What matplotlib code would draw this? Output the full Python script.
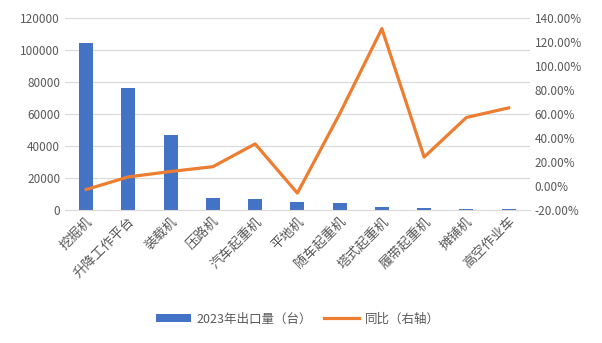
import matplotlib
matplotlib.use("Agg")
import matplotlib.pyplot as plt
from matplotlib.ticker import FuncFormatter

plt.rcParams['font.family'] = ['Noto Sans CJK SC', 'DejaVu Sans']

categories = ["挖掘机", "升降工作平台", "装载机", "压路机", "汽车起重机", "平地机",
              "随车起重机", "塔式起重机", "履带起重机", "摊铺机", "高空作业车"]
exports = [104500, 76000, 47000, 7500, 7000, 5000, 4500, 1800, 1500, 600, 500]
yoy = [-3, 7.5, 12, 16, 35, -6, 60, 131, 24, 57, 65]

bar_color = "#4472C4"
line_color = "#ED7D31"
text_color = "#595959"

fig = plt.figure(figsize=(6.02, 3.43), dpi=100)
ax = fig.add_axes([0.108, 0.388, 0.772, 0.56])
x = range(len(categories))
b = ax.bar(x, exports, width=0.33, color=bar_color, zorder=2, label="2023年出口量（台）")
ax.set_ylim(0, 120000)
ax.set_yticks(range(0, 120001, 20000))
ax.set_xlim(-0.5, len(categories) - 0.5)
ax.grid(axis='y', color="#D9D9D9", linewidth=0.8, zorder=0)
for s in ax.spines.values():
    s.set_visible(False)
ax.spines['bottom'].set_visible(True)
ax.spines['bottom'].set_color("#D9D9D9")
ax.tick_params(axis='both', length=0, colors=text_color, labelsize=8.5)
ax.set_xticks(list(x))
ax.set_xticklabels(categories, rotation=45, ha='right', rotation_mode='anchor', fontsize=9.5)

ax2 = ax.twinx()
l, = ax2.plot(x, yoy, color=line_color, linewidth=2.3, zorder=3, label="同比（右轴）")
ax2.set_ylim(-20, 140)
ax2.set_yticks(range(-20, 141, 20))
ax2.yaxis.set_major_formatter(FuncFormatter(lambda v, p: f"{v:.2f}%"))
for s in ax2.spines.values():
    s.set_visible(False)
ax2.tick_params(axis='both', length=0, colors=text_color, labelsize=8.5)

fig.legend(handles=[b, l], loc='center', bbox_to_anchor=(0.495, 0.07),
           ncol=2, frameon=False, fontsize=9, labelcolor=text_color,
           handlelength=2.8, columnspacing=1.0, handletextpad=0.4)

fig.savefig("out.png", dpi=100)
